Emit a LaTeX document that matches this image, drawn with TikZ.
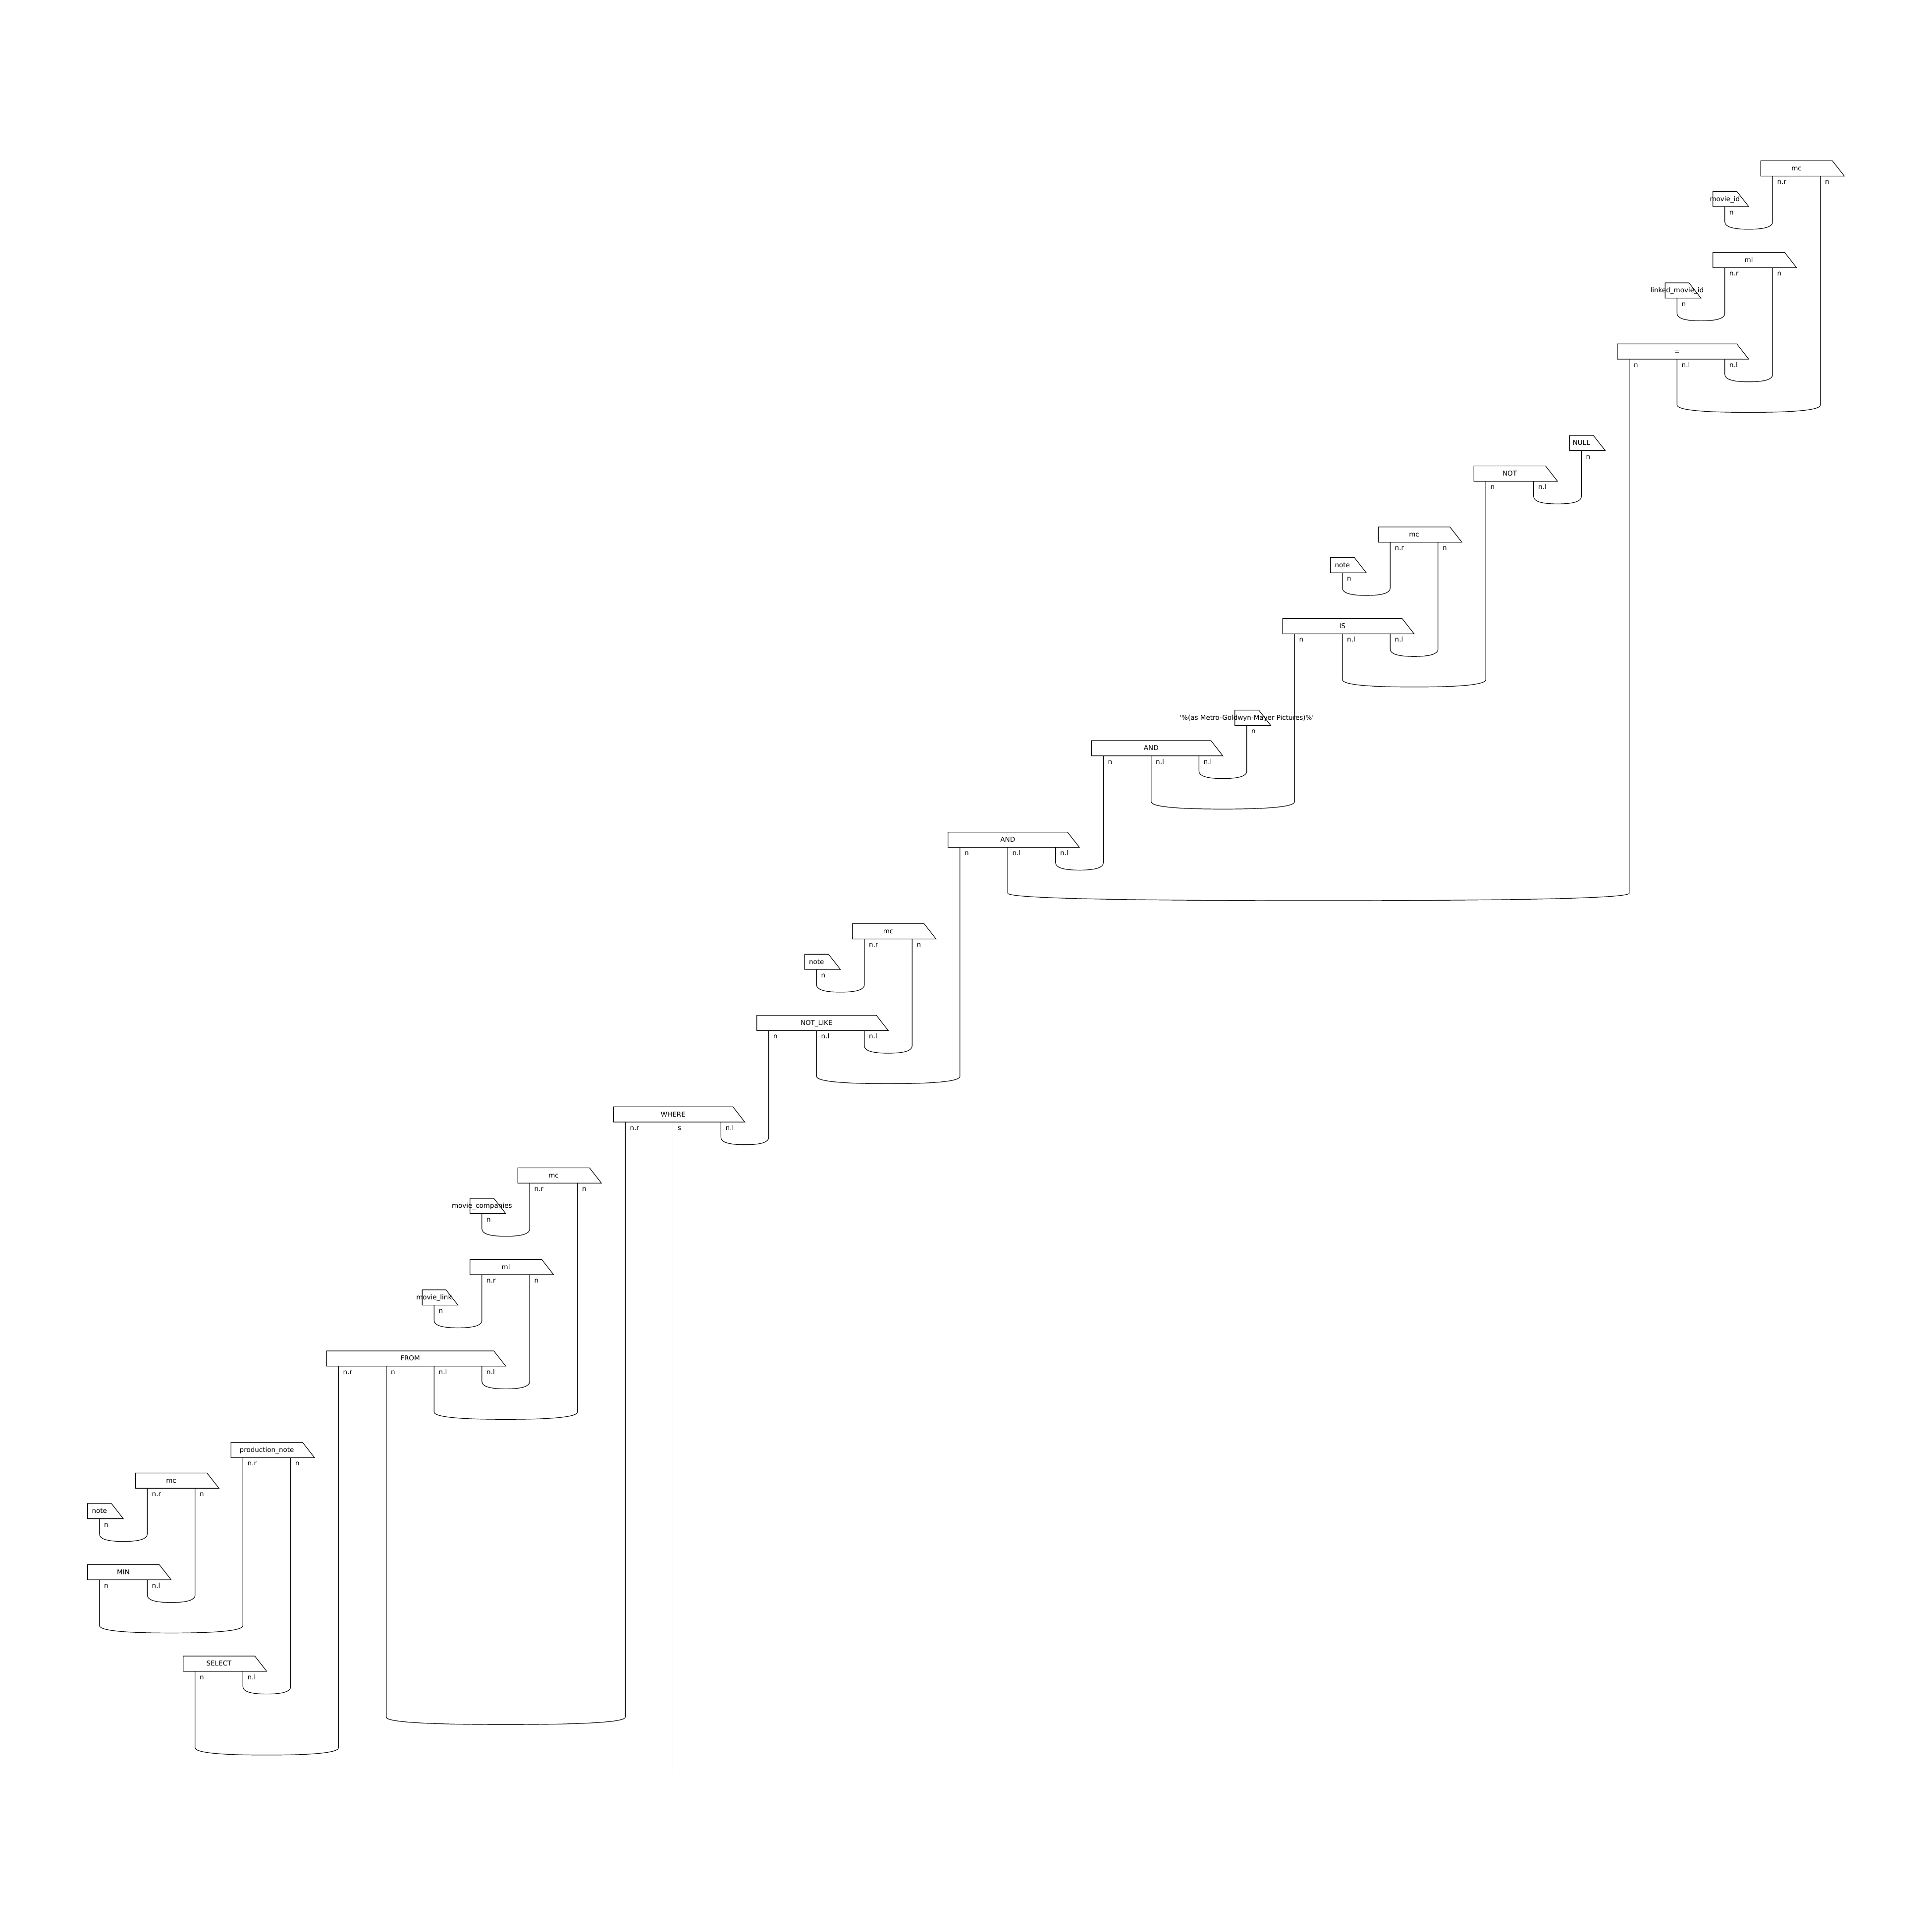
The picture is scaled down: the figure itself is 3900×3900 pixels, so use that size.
\documentclass[tikz,border=0pt]{standalone}
\usepackage{fontspec}
\setmainfont{DejaVu Sans}
\usetikzlibrary{calc}
\tikzset{
  boxline/.style={draw=black, fill=white, line width=1.2pt, line join=miter},
  wire/.style={draw=black, line width=1.2pt},
  boxlabel/.style={anchor=base, inner sep=0pt, font=\fontsize{13.5}{16}\selectfont},
  portlabel/.style={anchor=base west, inner sep=0pt, font=\fontsize{13.5}{16}\selectfont},
}
% #1 name, #2 label, #3 row, #4 first column, #5 last column, #6 list idx/column/label
\newcommand{\sdbox}[6]{%
  \pgfmathsetmacro{\sdYt}{324.6+61.6*#3}%
  \pgfmathsetmacro{\sdYb}{\sdYt+30.8}%
  \pgfmathsetmacro{\sdXl}{200.8+96.5*#4-24.1}%
  \pgfmathsetmacro{\sdXr}{200.8+96.5*#5+24.1}%
  \pgfmathsetmacro{\sdXrb}{200.8+96.5*#5+48.2}%
  \pgfmathsetmacro{\sdXm}{(\sdXl+\sdXr)/2}%
  \pgfmathsetmacro{\sdYm}{\sdYt+19.9}%
  \draw[boxline] (\sdXl,\sdYt) -- (\sdXr,\sdYt) -- (\sdXrb,\sdYb) -- (\sdXl,\sdYb) -- cycle;
  \node[boxlabel] (#1) at (\sdXm,\sdYm) {#2};
  \foreach \sdI/\sdC/\sdT in {#6} {
    \pgfmathsetmacro{\sdXw}{200.8+96.5*\sdC}
    \pgfmathsetmacro{\sdXt}{\sdXw+9.2}
    \pgfmathsetmacro{\sdYl}{\sdYb+16.3}
    \coordinate (#1-\sdI) at (\sdXw,\sdYb);
    \node[portlabel] (#1-\sdI-lab) at (\sdXt,\sdYl) {\sdT};
  }
}
% #1 left port, #2 right port, #3 row of the cup
\newcommand{\sdcup}[3]{%
  \pgfmathsetmacro{\sdCy}{324.6+61.6*#3}%
  \coordinate (cupline) at (0,\sdCy);
  \coordinate (cupA) at (#1 |- cupline);
  \coordinate (cupB) at (#2 |- cupline);
  \draw[wire] (#1) -- (cupA)
    .. controls ($(cupA)+(0,10)$) and ($(cupA)!0.16667!(cupB)+(0,15)$) .. ($(cupA)!0.5!(cupB)+(0,15)$)
    .. controls ($(cupA)!0.83333!(cupB)+(0,15)$) and ($(cupB)+(0,10)$) .. (cupB) -- (#2);
}
\begin{document}
\begin{tikzpicture}[x=1pt,y=-1pt]
\fill[white] (0,0) rectangle (3900,3900);
\useasboundingbox (0,0) rectangle (3900,3900);

\sdbox{mcA}{mc}{0}{35}{36}{1/35/n.r, 2/36/n}
\sdbox{movieid}{movie\_id}{1}{34}{34}{1/34/n}
\sdbox{mlA}{ml}{3}{34}{35}{1/34/n.r, 2/35/n}
\sdbox{linked}{linked\_movie\_id}{4}{33}{33}{1/33/n}
\sdbox{eq}{=}{6}{32}{34}{1/32/n, 2/33/n.l, 3/34/n.l}
\sdbox{null}{NULL}{9}{31}{31}{1/31/n}
\sdbox{notb}{NOT}{10}{29}{30}{1/29/n, 2/30/n.l}
\sdbox{mcB}{mc}{12}{27}{28}{1/27/n.r, 2/28/n}
\sdbox{noteB}{note}{13}{26}{26}{1/26/n}
\sdbox{is}{IS}{15}{25}{27}{1/25/n, 2/26/n.l, 3/27/n.l}
\sdbox{mgm}{\textquotesingle\%(as Metro-Goldwyn-Mayer Pictures)\%\textquotesingle}{18}{24}{24}{1/24/n}
\sdbox{andA}{AND}{19}{21}{23}{1/21/n, 2/22/n.l, 3/23/n.l}
\sdbox{andB}{AND}{22}{18}{20}{1/18/n, 2/19/n.l, 3/20/n.l}
\sdbox{mcC}{mc}{25}{16}{17}{1/16/n.r, 2/17/n}
\sdbox{noteC}{note}{26}{15}{15}{1/15/n}
\sdbox{notlike}{NOT\_LIKE}{28}{14}{16}{1/14/n, 2/15/n.l, 3/16/n.l}
\sdbox{where}{WHERE}{31}{11}{13}{1/11/n.r, 2/12/s, 3/13/n.l}
\sdbox{mcD}{mc}{33}{9}{10}{1/9/n.r, 2/10/n}
\sdbox{moviecomp}{movie\_companies}{34}{8}{8}{1/8/n}
\sdbox{mlB}{ml}{36}{8}{9}{1/8/n.r, 2/9/n}
\sdbox{movielink}{movie\_link}{37}{7}{7}{1/7/n}
\sdbox{from}{FROM}{39}{5}{8}{1/5/n.r, 2/6/n, 3/7/n.l, 4/8/n.l}
\sdbox{prodnote}{production\_note}{42}{3}{4}{1/3/n.r, 2/4/n}
\sdbox{mcE}{mc}{43}{1}{2}{1/1/n.r, 2/2/n}
\sdbox{noteE}{note}{44}{0}{0}{1/0/n}
\sdbox{min}{MIN}{46}{0}{1}{1/0/n, 2/1/n.l}
\sdbox{select}{SELECT}{49}{2}{3}{1/2/n, 2/3/n.l}

\sdcup{movieid-1}{mcA-1}{2}
\sdcup{linked-1}{mlA-1}{5}
\sdcup{eq-3}{mlA-2}{7}
\sdcup{eq-2}{mcA-2}{8}
\sdcup{notb-2}{null-1}{11}
\sdcup{noteB-1}{mcB-1}{14}
\sdcup{is-3}{mcB-2}{16}
\sdcup{is-2}{notb-1}{17}
\sdcup{andA-3}{mgm-1}{20}
\sdcup{andA-2}{is-1}{21}
\sdcup{andB-3}{andA-1}{23}
\sdcup{andB-2}{eq-1}{24}
\sdcup{noteC-1}{mcC-1}{27}
\sdcup{notlike-3}{mcC-2}{29}
\sdcup{notlike-2}{andB-1}{30}
\sdcup{where-3}{notlike-1}{32}
\sdcup{moviecomp-1}{mcD-1}{35}
\sdcup{movielink-1}{mlB-1}{38}
\sdcup{from-4}{mlB-2}{40}
\sdcup{from-3}{mcD-2}{41}
\sdcup{noteE-1}{mcE-1}{45}
\sdcup{min-2}{mcE-2}{47}
\sdcup{min-1}{prodnote-1}{48}
\sdcup{select-2}{prodnote-2}{50}
\sdcup{from-2}{where-1}{51}
\sdcup{select-1}{from-1}{52}

\coordinate (send) at ({200.8+96.5*12},3574.7);
\draw[wire] (where-2) -- (send);
\end{tikzpicture}
\end{document}
